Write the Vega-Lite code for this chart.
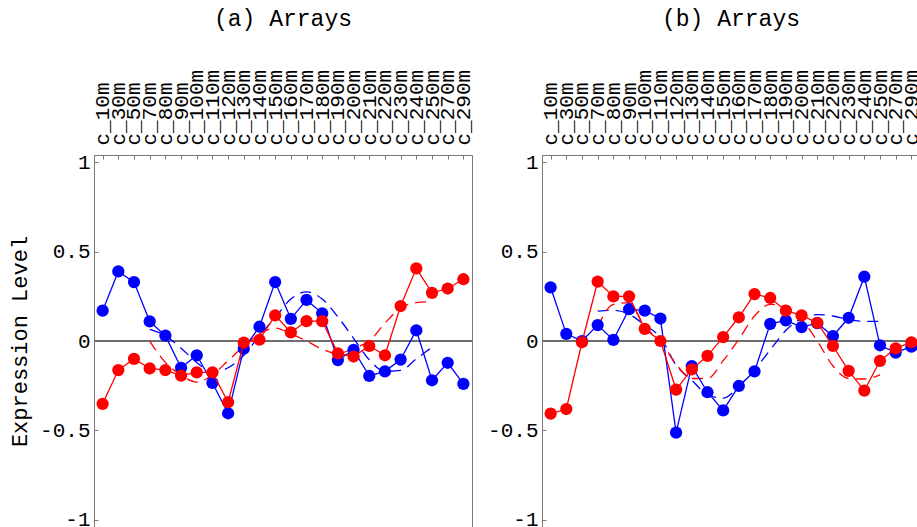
{
"$schema": "https://vega.github.io/schema/vega-lite/v6.json",
"padding": {"left": 8, "top": 7, "right": 0, "bottom": 0},
"config": {
  "font": "Liberation Mono",
  "view": {"stroke": "#7a7a7a", "strokeWidth": 1},
  "axis": {"domainColor": "#7a7a7a", "tickColor": "#7a7a7a", "labelFont": "Liberation Mono", "labelFontSize": 21, "labelColor": "#000000", "titleFont": "Liberation Mono", "titleFontWeight": "normal", "titleFontSize": 22, "titleColor": "#000000", "grid": false, "tickSize": -4},
  "title": {"font": "Liberation Mono", "fontSize": 23, "fontWeight": "normal", "color": "#000000"}
},
"datasets": {
"all": [
{"p":"a","k":"obs","s":"s1","t":"c_10m","v":0.17},{"p":"a","k":"obs","s":"s1","t":"c_30m","v":0.39},{"p":"a","k":"obs","s":"s1","t":"c_50m","v":0.33},{"p":"a","k":"obs","s":"s1","t":"c_70m","v":0.11},{"p":"a","k":"obs","s":"s1","t":"c_80m","v":0.03},{"p":"a","k":"obs","s":"s1","t":"c_90m","v":-0.15},{"p":"a","k":"obs","s":"s1","t":"c_100m","v":-0.08},{"p":"a","k":"obs","s":"s1","t":"c_110m","v":-0.235},{"p":"a","k":"obs","s":"s1","t":"c_120m","v":-0.405},{"p":"a","k":"obs","s":"s1","t":"c_130m","v":-0.043},{"p":"a","k":"obs","s":"s1","t":"c_140m","v":0.08},{"p":"a","k":"obs","s":"s1","t":"c_150m","v":0.33},{"p":"a","k":"obs","s":"s1","t":"c_160m","v":0.124},{"p":"a","k":"obs","s":"s1","t":"c_170m","v":0.23},{"p":"a","k":"obs","s":"s1","t":"c_180m","v":0.155},{"p":"a","k":"obs","s":"s1","t":"c_190m","v":-0.107},{"p":"a","k":"obs","s":"s1","t":"c_200m","v":-0.05},{"p":"a","k":"obs","s":"s1","t":"c_210m","v":-0.196},{"p":"a","k":"obs","s":"s1","t":"c_220m","v":-0.17},{"p":"a","k":"obs","s":"s1","t":"c_230m","v":-0.104},{"p":"a","k":"obs","s":"s1","t":"c_240m","v":0.06},{"p":"a","k":"obs","s":"s1","t":"c_250m","v":-0.22},{"p":"a","k":"obs","s":"s1","t":"c_270m","v":-0.122},{"p":"a","k":"obs","s":"s1","t":"c_290m","v":-0.24},
{"p":"a","k":"obs","s":"s2","t":"c_10m","v":-0.352},{"p":"a","k":"obs","s":"s2","t":"c_30m","v":-0.163},{"p":"a","k":"obs","s":"s2","t":"c_50m","v":-0.1},{"p":"a","k":"obs","s":"s2","t":"c_70m","v":-0.154},{"p":"a","k":"obs","s":"s2","t":"c_80m","v":-0.163},{"p":"a","k":"obs","s":"s2","t":"c_90m","v":-0.194},{"p":"a","k":"obs","s":"s2","t":"c_100m","v":-0.176},{"p":"a","k":"obs","s":"s2","t":"c_110m","v":-0.176},{"p":"a","k":"obs","s":"s2","t":"c_120m","v":-0.343},{"p":"a","k":"obs","s":"s2","t":"c_130m","v":-0.009},{"p":"a","k":"obs","s":"s2","t":"c_140m","v":0.007},{"p":"a","k":"obs","s":"s2","t":"c_150m","v":0.144},{"p":"a","k":"obs","s":"s2","t":"c_160m","v":0.048},{"p":"a","k":"obs","s":"s2","t":"c_170m","v":0.111},{"p":"a","k":"obs","s":"s2","t":"c_180m","v":0.111},{"p":"a","k":"obs","s":"s2","t":"c_190m","v":-0.069},{"p":"a","k":"obs","s":"s2","t":"c_200m","v":-0.087},{"p":"a","k":"obs","s":"s2","t":"c_210m","v":-0.028},{"p":"a","k":"obs","s":"s2","t":"c_220m","v":-0.08},{"p":"a","k":"obs","s":"s2","t":"c_230m","v":0.196},{"p":"a","k":"obs","s":"s2","t":"c_240m","v":0.407},{"p":"a","k":"obs","s":"s2","t":"c_250m","v":0.27},{"p":"a","k":"obs","s":"s2","t":"c_270m","v":0.294},{"p":"a","k":"obs","s":"s2","t":"c_290m","v":0.346},
{"p":"a","k":"fit","s":"s1","t":"c_70m","v":0.065},{"p":"a","k":"fit","s":"s1","t":"c_80m","v":0.03},{"p":"a","k":"fit","s":"s1","t":"c_90m","v":-0.04},{"p":"a","k":"fit","s":"s1","t":"c_100m","v":-0.12},{"p":"a","k":"fit","s":"s1","t":"c_110m","v":-0.175},{"p":"a","k":"fit","s":"s1","t":"c_120m","v":-0.15},{"p":"a","k":"fit","s":"s1","t":"c_130m","v":-0.08},{"p":"a","k":"fit","s":"s1","t":"c_140m","v":0.03},{"p":"a","k":"fit","s":"s1","t":"c_150m","v":0.13},{"p":"a","k":"fit","s":"s1","t":"c_160m","v":0.235},{"p":"a","k":"fit","s":"s1","t":"c_170m","v":0.275},{"p":"a","k":"fit","s":"s1","t":"c_180m","v":0.235},{"p":"a","k":"fit","s":"s1","t":"c_190m","v":0.135},{"p":"a","k":"fit","s":"s1","t":"c_200m","v":0.015},{"p":"a","k":"fit","s":"s1","t":"c_210m","v":-0.105},{"p":"a","k":"fit","s":"s1","t":"c_220m","v":-0.17},{"p":"a","k":"fit","s":"s1","t":"c_230m","v":-0.165},{"p":"a","k":"fit","s":"s1","t":"c_240m","v":-0.1},{"p":"a","k":"fit","s":"s1","t":"c_250m","v":-0.035},
{"p":"a","k":"fit","s":"s2","t":"c_70m","v":0.0},{"p":"a","k":"fit","s":"s2","t":"c_80m","v":-0.12},{"p":"a","k":"fit","s":"s2","t":"c_90m","v":-0.19},{"p":"a","k":"fit","s":"s2","t":"c_100m","v":-0.23},{"p":"a","k":"fit","s":"s2","t":"c_110m","v":-0.19},{"p":"a","k":"fit","s":"s2","t":"c_120m","v":-0.11},{"p":"a","k":"fit","s":"s2","t":"c_130m","v":-0.03},{"p":"a","k":"fit","s":"s2","t":"c_140m","v":0.04},{"p":"a","k":"fit","s":"s2","t":"c_150m","v":0.072},{"p":"a","k":"fit","s":"s2","t":"c_160m","v":0.04},{"p":"a","k":"fit","s":"s2","t":"c_170m","v":0.0},{"p":"a","k":"fit","s":"s2","t":"c_180m","v":-0.045},{"p":"a","k":"fit","s":"s2","t":"c_190m","v":-0.07},{"p":"a","k":"fit","s":"s2","t":"c_200m","v":-0.04},{"p":"a","k":"fit","s":"s2","t":"c_210m","v":0.0},{"p":"a","k":"fit","s":"s2","t":"c_220m","v":0.1},{"p":"a","k":"fit","s":"s2","t":"c_230m","v":0.185},{"p":"a","k":"fit","s":"s2","t":"c_240m","v":0.215},{"p":"a","k":"fit","s":"s2","t":"c_250m","v":0.22},
{"p":"b","k":"obs","s":"s1","t":"c_10m","v":0.3},{"p":"b","k":"obs","s":"s1","t":"c_30m","v":0.04},{"p":"b","k":"obs","s":"s1","t":"c_50m","v":0.0},{"p":"b","k":"obs","s":"s1","t":"c_70m","v":0.089},{"p":"b","k":"obs","s":"s1","t":"c_80m","v":0.006},{"p":"b","k":"obs","s":"s1","t":"c_90m","v":0.178},{"p":"b","k":"obs","s":"s1","t":"c_100m","v":0.17},{"p":"b","k":"obs","s":"s1","t":"c_110m","v":0.126},{"p":"b","k":"obs","s":"s1","t":"c_120m","v":-0.513},{"p":"b","k":"obs","s":"s1","t":"c_130m","v":-0.141},{"p":"b","k":"obs","s":"s1","t":"c_140m","v":-0.287},{"p":"b","k":"obs","s":"s1","t":"c_150m","v":-0.389},{"p":"b","k":"obs","s":"s1","t":"c_160m","v":-0.252},{"p":"b","k":"obs","s":"s1","t":"c_170m","v":-0.17},{"p":"b","k":"obs","s":"s1","t":"c_180m","v":0.096},{"p":"b","k":"obs","s":"s1","t":"c_190m","v":0.115},{"p":"b","k":"obs","s":"s1","t":"c_200m","v":0.078},{"p":"b","k":"obs","s":"s1","t":"c_210m","v":0.1},{"p":"b","k":"obs","s":"s1","t":"c_220m","v":0.028},{"p":"b","k":"obs","s":"s1","t":"c_230m","v":0.13},{"p":"b","k":"obs","s":"s1","t":"c_240m","v":0.36},{"p":"b","k":"obs","s":"s1","t":"c_250m","v":-0.024},{"p":"b","k":"obs","s":"s1","t":"c_270m","v":-0.065},{"p":"b","k":"obs","s":"s1","t":"c_290m","v":-0.032},
{"p":"b","k":"obs","s":"s2","t":"c_10m","v":-0.407},{"p":"b","k":"obs","s":"s2","t":"c_30m","v":-0.381},{"p":"b","k":"obs","s":"s2","t":"c_50m","v":-0.007},{"p":"b","k":"obs","s":"s2","t":"c_70m","v":0.333},{"p":"b","k":"obs","s":"s2","t":"c_80m","v":0.25},{"p":"b","k":"obs","s":"s2","t":"c_90m","v":0.25},{"p":"b","k":"obs","s":"s2","t":"c_100m","v":0.068},{"p":"b","k":"obs","s":"s2","t":"c_110m","v":0.0},{"p":"b","k":"obs","s":"s2","t":"c_120m","v":-0.272},{"p":"b","k":"obs","s":"s2","t":"c_130m","v":-0.159},{"p":"b","k":"obs","s":"s2","t":"c_140m","v":-0.083},{"p":"b","k":"obs","s":"s2","t":"c_150m","v":0.022},{"p":"b","k":"obs","s":"s2","t":"c_160m","v":0.133},{"p":"b","k":"obs","s":"s2","t":"c_170m","v":0.263},{"p":"b","k":"obs","s":"s2","t":"c_180m","v":0.241},{"p":"b","k":"obs","s":"s2","t":"c_190m","v":0.17},{"p":"b","k":"obs","s":"s2","t":"c_200m","v":0.144},{"p":"b","k":"obs","s":"s2","t":"c_210m","v":0.102},{"p":"b","k":"obs","s":"s2","t":"c_220m","v":-0.028},{"p":"b","k":"obs","s":"s2","t":"c_230m","v":-0.167},{"p":"b","k":"obs","s":"s2","t":"c_240m","v":-0.278},{"p":"b","k":"obs","s":"s2","t":"c_250m","v":-0.111},{"p":"b","k":"obs","s":"s2","t":"c_270m","v":-0.041},{"p":"b","k":"obs","s":"s2","t":"c_290m","v":-0.007},
{"p":"b","k":"fit","s":"s1","t":"c_70m","v":0.167},{"p":"b","k":"fit","s":"s1","t":"c_80m","v":0.172},{"p":"b","k":"fit","s":"s1","t":"c_90m","v":0.15},{"p":"b","k":"fit","s":"s1","t":"c_100m","v":0.09},{"p":"b","k":"fit","s":"s1","t":"c_110m","v":0.02},{"p":"b","k":"fit","s":"s1","t":"c_120m","v":-0.135},{"p":"b","k":"fit","s":"s1","t":"c_130m","v":-0.22},{"p":"b","k":"fit","s":"s1","t":"c_140m","v":-0.3},{"p":"b","k":"fit","s":"s1","t":"c_150m","v":-0.32},{"p":"b","k":"fit","s":"s1","t":"c_160m","v":-0.255},{"p":"b","k":"fit","s":"s1","t":"c_170m","v":-0.16},{"p":"b","k":"fit","s":"s1","t":"c_180m","v":-0.05},{"p":"b","k":"fit","s":"s1","t":"c_190m","v":0.06},{"p":"b","k":"fit","s":"s1","t":"c_200m","v":0.125},{"p":"b","k":"fit","s":"s1","t":"c_210m","v":0.148},{"p":"b","k":"fit","s":"s1","t":"c_220m","v":0.14},{"p":"b","k":"fit","s":"s1","t":"c_230m","v":0.12},{"p":"b","k":"fit","s":"s1","t":"c_240m","v":0.11},{"p":"b","k":"fit","s":"s1","t":"c_250m","v":0.11},
{"p":"b","k":"fit","s":"s2","t":"c_70m","v":0.08},{"p":"b","k":"fit","s":"s2","t":"c_80m","v":0.205},{"p":"b","k":"fit","s":"s2","t":"c_90m","v":0.215},{"p":"b","k":"fit","s":"s2","t":"c_100m","v":0.08},{"p":"b","k":"fit","s":"s2","t":"c_110m","v":0.0},{"p":"b","k":"fit","s":"s2","t":"c_120m","v":-0.13},{"p":"b","k":"fit","s":"s2","t":"c_130m","v":-0.21},{"p":"b","k":"fit","s":"s2","t":"c_140m","v":-0.21},{"p":"b","k":"fit","s":"s2","t":"c_150m","v":-0.11},{"p":"b","k":"fit","s":"s2","t":"c_160m","v":0.01},{"p":"b","k":"fit","s":"s2","t":"c_170m","v":0.14},{"p":"b","k":"fit","s":"s2","t":"c_180m","v":0.205},{"p":"b","k":"fit","s":"s2","t":"c_190m","v":0.19},{"p":"b","k":"fit","s":"s2","t":"c_200m","v":0.12},{"p":"b","k":"fit","s":"s2","t":"c_210m","v":0.0},{"p":"b","k":"fit","s":"s2","t":"c_220m","v":-0.14},{"p":"b","k":"fit","s":"s2","t":"c_230m","v":-0.21},{"p":"b","k":"fit","s":"s2","t":"c_240m","v":-0.213},{"p":"b","k":"fit","s":"s2","t":"c_250m","v":-0.19}
]
},
"spacing": 70,
"bounds": "flush",
"hconcat": [
{
 "width": 378, "height": 372,
 "title": {"text": "(a) Arrays", "offset": 38},
 "data": {"name": "all"},
 "transform": [{"filter": "datum.p == 'a'"}],
 "layer": [
  {"mark": {"type": "rule", "color": "#6e6e6e", "strokeWidth": 1}, "encoding": {"y": {"datum": 0, "type": "quantitative", "title": "Expression Level"}}},
  {
   "encoding": {
    "x": {"field": "t", "type": "ordinal", "sort": null, "scale": {"type": "point", "domain": ["c_10m","c_30m","c_50m","c_70m","c_80m","c_90m","c_100m","c_110m","c_120m","c_130m","c_140m","c_150m","c_160m","c_170m","c_180m","c_190m","c_200m","c_210m","c_220m","c_230m","c_240m","c_250m","c_270m","c_290m"], "padding": 0.55}, "axis": {"orient": "top", "labelAngle": -90, "title": null, "labelPadding": 14, "labelBaseline": "middle", "labelAlign": "left"}},
    "y": {"field": "v", "type": "quantitative", "scale": {"domain": [-1.042, 1.042], "nice": false, "zero": false}, "axis": {"values": [-1, -0.5, 0, 0.5, 1], "labelExpr": "toString(datum.value)", "title": "Expression Level", "titlePadding": 8, "labelPadding": 8}},
    "color": {"field": "s", "type": "nominal", "scale": {"domain": ["s1", "s2"], "range": ["#0000ff", "#ff0000"]}, "legend": null}
   },
   "layer": [
    {"transform": [{"filter": "datum.k == 'fit' && datum.s == 's1'"}], "mark": {"type": "line", "strokeWidth": 1.3, "strokeDash": [11, 7], "interpolate": "monotone"}},
    {"transform": [{"filter": "datum.k == 'fit' && datum.s == 's2'"}], "mark": {"type": "line", "strokeWidth": 1.3, "strokeDash": [11, 7], "interpolate": "monotone"}},
    {"transform": [{"filter": "datum.k == 'obs' && datum.s == 's1'"}], "mark": {"type": "line", "strokeWidth": 1.3, "point": {"filled": true, "size": 150, "opacity": 1}}},
    {"transform": [{"filter": "datum.k == 'obs' && datum.s == 's2'"}], "mark": {"type": "line", "strokeWidth": 1.3, "point": {"filled": true, "size": 150, "opacity": 1}}}
   ]
  }
 ]
},
{
 "width": 378, "height": 372,
 "title": {"text": "(b) Arrays", "offset": 38},
 "data": {"name": "all"},
 "transform": [{"filter": "datum.p == 'b'"}],
 "layer": [
  {"mark": {"type": "rule", "color": "#6e6e6e", "strokeWidth": 1}, "encoding": {"y": {"datum": 0, "type": "quantitative", "title": null}}},
  {
   "encoding": {
    "x": {"field": "t", "type": "ordinal", "sort": null, "scale": {"type": "point", "domain": ["c_10m","c_30m","c_50m","c_70m","c_80m","c_90m","c_100m","c_110m","c_120m","c_130m","c_140m","c_150m","c_160m","c_170m","c_180m","c_190m","c_200m","c_210m","c_220m","c_230m","c_240m","c_250m","c_270m","c_290m"], "padding": 0.55}, "axis": {"orient": "top", "labelAngle": -90, "title": null, "labelPadding": 14, "labelBaseline": "middle", "labelAlign": "left"}},
    "y": {"field": "v", "type": "quantitative", "scale": {"domain": [-1.042, 1.042], "nice": false, "zero": false}, "axis": {"values": [-1, -0.5, 0, 0.5, 1], "labelExpr": "toString(datum.value)", "title": null, "labelPadding": 8}},
    "color": {"field": "s", "type": "nominal", "scale": {"domain": ["s1", "s2"], "range": ["#0000ff", "#ff0000"]}, "legend": null}
   },
   "layer": [
    {"transform": [{"filter": "datum.k == 'fit' && datum.s == 's1'"}], "mark": {"type": "line", "strokeWidth": 1.3, "strokeDash": [11, 7], "interpolate": "monotone"}},
    {"transform": [{"filter": "datum.k == 'fit' && datum.s == 's2'"}], "mark": {"type": "line", "strokeWidth": 1.3, "strokeDash": [11, 7], "interpolate": "monotone"}},
    {"transform": [{"filter": "datum.k == 'obs' && datum.s == 's1'"}], "mark": {"type": "line", "strokeWidth": 1.3, "point": {"filled": true, "size": 150, "opacity": 1}}},
    {"transform": [{"filter": "datum.k == 'obs' && datum.s == 's2'"}], "mark": {"type": "line", "strokeWidth": 1.3, "point": {"filled": true, "size": 150, "opacity": 1}}}
   ]
  }
 ]
}
]
}
